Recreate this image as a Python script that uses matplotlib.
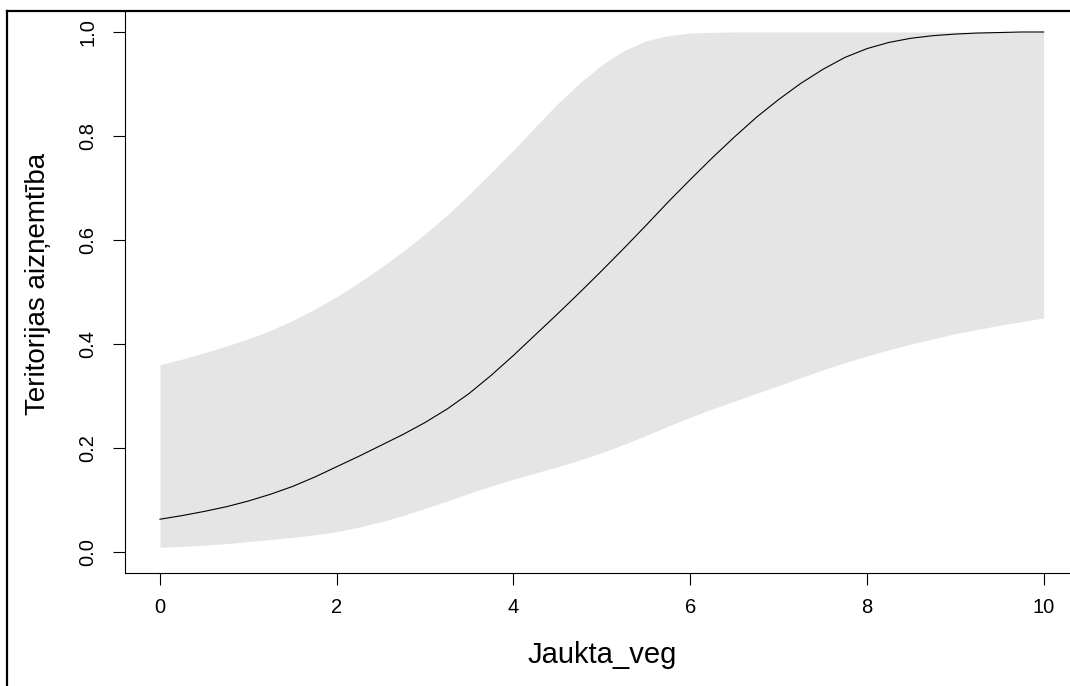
import numpy as np
import matplotlib.pyplot as plt
from matplotlib.lines import Line2D

plt.rcParams['font.family'] = ['Liberation Sans', 'DejaVu Sans']

# values (quarter steps of Jaukta_veg)
jaukta_veg = [0, 0.25, 0.5, 0.75, 1, 1.25, 1.5, 1.75, 2, 2.25, 2.5, 2.75, 3, 3.25,
              3.5, 3.75, 4, 4.25, 4.5, 4.75, 5, 5.25, 5.5, 5.75, 6, 6.25, 6.5,
              6.75, 7, 7.25, 7.5, 7.75, 8, 8.25, 8.5, 8.75, 9, 9.25, 9.5, 9.75, 10]
fit = [0.063, 0.070, 0.078, 0.087, 0.098, 0.111, 0.126, 0.144, 0.164, 0.184, 0.205,
       0.226, 0.249, 0.275, 0.305, 0.340, 0.378, 0.418, 0.458, 0.499, 0.541, 0.584,
       0.628, 0.673, 0.716, 0.758, 0.798, 0.836, 0.870, 0.901, 0.928, 0.951, 0.968,
       0.980, 0.988, 0.993, 0.996, 0.998, 0.999, 1.000, 1.000]
upper = [0.360, 0.371, 0.383, 0.396, 0.410, 0.426, 0.445, 0.467, 0.491, 0.518, 0.547,
         0.578, 0.612, 0.648, 0.688, 0.730, 0.773, 0.818, 0.862, 0.902, 0.937, 0.964,
         0.983, 0.993, 0.998, 0.9995, 1.0, 1.0, 1.0, 1.0, 1.0, 1.0, 1.0,
         1.0, 1.0, 1.0, 1.0, 1.0, 1.0, 1.0, 1.0]
lower = [0.009, 0.011, 0.013, 0.016, 0.020, 0.024, 0.028, 0.033, 0.039, 0.048, 0.058,
         0.070, 0.084, 0.098, 0.113, 0.127, 0.140, 0.152, 0.164, 0.177, 0.191, 0.207,
         0.224, 0.242, 0.259, 0.275, 0.290, 0.305, 0.320, 0.335, 0.350, 0.364, 0.377,
         0.389, 0.400, 0.410, 0.420, 0.428, 0.436, 0.443, 0.450]

W, H = 1070, 686
fig = plt.figure(figsize=(W / 100, H / 100), dpi=100)
ax = fig.add_axes([124.6 / W, (H - 572.8) / H, (1079 - 124.6) / W, (572.8 - 11.2) / H])

ax.fill_between(jaukta_veg, lower, upper, color='#e5e5e5', linewidth=0)
ax.plot(jaukta_veg, fit, color='black', linewidth=0.8)

ax.set_xlim(-0.4, 10.4)
ax.set_ylim(-0.04, 1.04)
ax.set_xticks([0, 2, 4, 6, 8, 10])
ax.set_yticks([0.0, 0.2, 0.4, 0.6, 0.8, 1.0])
ax.set_yticklabels(['0.0', '0.2', '0.4', '0.6', '0.8', '1.0'], rotation=90, va='center')
ax.tick_params(axis='both', length=8.5, width=0.8, labelsize=14.5, colors='black')
ax.tick_params(axis='x', pad=10)
ax.tick_params(axis='y', pad=11)
for s in ['top', 'right']:
    ax.spines[s].set_visible(False)
for s in ['left', 'bottom']:
    ax.spines[s].set_linewidth(0.8)

fig.text(602 / W, (H - 663) / H, 'Jaukta_veg', fontsize=21, ha='center', va='baseline')
fig.text(38 / W, (H - 284) / H, 'Teritorijas aizņemtība', fontsize=20,
         rotation=90, ha='center', va='center')

# window frame (top and left edges)
fig.add_artist(Line2D([7 / W, 1.0], [(H - 11) / H, (H - 11) / H], color='black', linewidth=1.6))
fig.add_artist(Line2D([7 / W, 7 / W], [0, (H - 11) / H], color='black', linewidth=1.6))

fig.savefig('out.png', dpi=100)
